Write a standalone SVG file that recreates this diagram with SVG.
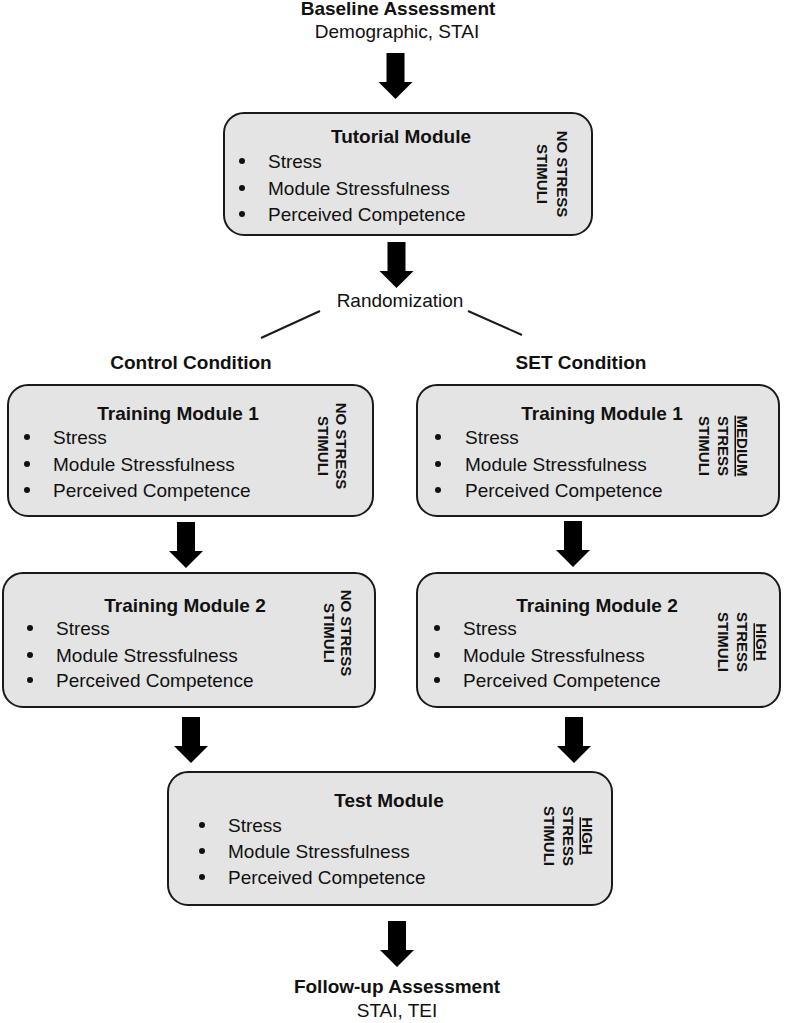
<svg xmlns="http://www.w3.org/2000/svg" width="786" height="1023" viewBox="0 0 786 1023">
<style>
text{font-family:"Liberation Sans",Arial,sans-serif;fill:#111;font-size:19px}
.b{font-weight:bold}
.c{text-anchor:middle}
.v{font-size:15px;font-weight:bold;text-anchor:middle}
.u{text-decoration:underline}
.box{fill:#e4e4e4;stroke:#1a1a1a;stroke-width:2}
.ln{stroke:#1a1a1a;stroke-width:2;fill:none}
</style>
<defs>
<path id="arr" d="M-9,0 H9 V29 H17 L0,46 L-17,29 H-9 Z" fill="#000"/>
<circle id="dot" r="3" fill="#111"/>
</defs>
<rect width="786" height="1023" fill="#fff"/>

<g id="baseline">
<text class="b c" x="398" y="15">Baseline Assessment</text>
<text class="c" x="397" y="38">Demographic, STAI</text>
</g>

<g id="tutorial">
<rect class="box" x="224" y="113" width="368" height="122" rx="20"/>
<text class="b c" x="401" y="143">Tutorial Module</text>
<use href="#dot" x="242" y="161"/><text x="268" y="168">Stress</text>
<use href="#dot" x="242" y="188"/><text x="268" y="195">Module Stressfulness</text>
<use href="#dot" x="242" y="214"/><text x="268" y="221">Perceived Competence</text>
<g transform="translate(557,174) rotate(90)">
<text class="v" x="0" y="0">NO STRESS</text>
<text class="v" x="0" y="20">STIMULI</text>
</g>
</g>

<g id="randomization">
<text class="c" x="400" y="307">Randomization</text>
</g>

<g id="control-label"><text class="b c" x="191" y="369">Control Condition</text></g>
<g id="set-label"><text class="b c" x="581" y="369">SET Condition</text></g>

<g id="control-t1">
<rect class="box" x="8" y="385" width="365" height="131" rx="20"/>
<text class="b c" x="178" y="420">Training Module 1</text>
<use href="#dot" x="27" y="437"/><text x="53" y="444">Stress</text>
<use href="#dot" x="27" y="464"/><text x="53" y="471">Module Stressfulness</text>
<use href="#dot" x="27" y="490"/><text x="53" y="497">Perceived Competence</text>
<g transform="translate(336,446) rotate(90)">
<text class="v" x="0" y="0">NO STRESS</text>
<text class="v" x="0" y="18">STIMULI</text>
</g>
</g>

<g id="set-t1">
<rect class="box" x="417" y="385" width="362" height="131" rx="20"/>
<text class="b c" x="602" y="420">Training Module 1</text>
<use href="#dot" x="438" y="437"/><text x="465" y="444">Stress</text>
<use href="#dot" x="438" y="464"/><text x="465" y="471">Module Stressfulness</text>
<use href="#dot" x="438" y="490"/><text x="465" y="497">Perceived Competence</text>
<g transform="translate(737,446) rotate(90)">
<text class="v u" x="0" y="0">MEDIUM</text>
<text class="v" x="0" y="19">STRESS</text>
<text class="v" x="0" y="38">STIMULI</text>
</g>
</g>

<g id="control-t2">
<rect class="box" x="3" y="573" width="372" height="134" rx="20"/>
<text class="b c" x="185" y="612">Training Module 2</text>
<use href="#dot" x="30" y="628"/><text x="56" y="635">Stress</text>
<use href="#dot" x="30" y="655"/><text x="56" y="662">Module Stressfulness</text>
<use href="#dot" x="30" y="680"/><text x="56" y="687">Perceived Competence</text>
<g transform="translate(341,633) rotate(90)">
<text class="v" x="0" y="0">NO STRESS</text>
<text class="v" x="0" y="17">STIMULI</text>
</g>
</g>

<g id="set-t2">
<rect class="box" x="417" y="573" width="363" height="134" rx="20"/>
<text class="b c" x="597" y="612">Training Module 2</text>
<use href="#dot" x="437" y="628"/><text x="463" y="635">Stress</text>
<use href="#dot" x="437" y="655"/><text x="463" y="662">Module Stressfulness</text>
<use href="#dot" x="437" y="680"/><text x="463" y="687">Perceived Competence</text>
<g transform="translate(756,642) rotate(90)">
<text class="v u" x="0" y="0">HIGH</text>
<text class="v" x="0" y="19">STRESS</text>
<text class="v" x="0" y="38">STIMULI</text>
</g>
</g>

<g id="test">
<rect class="box" x="168" y="772" width="444" height="133" rx="20"/>
<text class="b c" x="389" y="807">Test Module</text>
<use href="#dot" x="202" y="825"/><text x="228" y="832">Stress</text>
<use href="#dot" x="202" y="851"/><text x="228" y="858">Module Stressfulness</text>
<use href="#dot" x="202" y="877"/><text x="228" y="884">Perceived Competence</text>
<g transform="translate(582,836) rotate(90)">
<text class="v u" x="0" y="0">HIGH</text>
<text class="v" x="0" y="19">STRESS</text>
<text class="v" x="0" y="38">STIMULI</text>
</g>
</g>

<g id="followup">
<text class="b c" x="397" y="993">Follow-up Assessment</text>
<text class="c" x="397" y="1017">STAI, TEI</text>
</g>

<g id="connectors">
<use href="#arr" x="395.5" y="53"/>
<use href="#arr" x="396.5" y="242"/>
<line class="ln" x1="261" y1="338" x2="320" y2="311"/>
<line class="ln" x1="468" y1="311" x2="522" y2="335"/>
<use href="#arr" x="186" y="522"/>
<use href="#arr" x="573" y="521"/>
<use href="#arr" x="191" y="717"/>
<use href="#arr" x="574" y="717"/>
<use href="#arr" x="397" y="921"/>
</g>
</svg>
